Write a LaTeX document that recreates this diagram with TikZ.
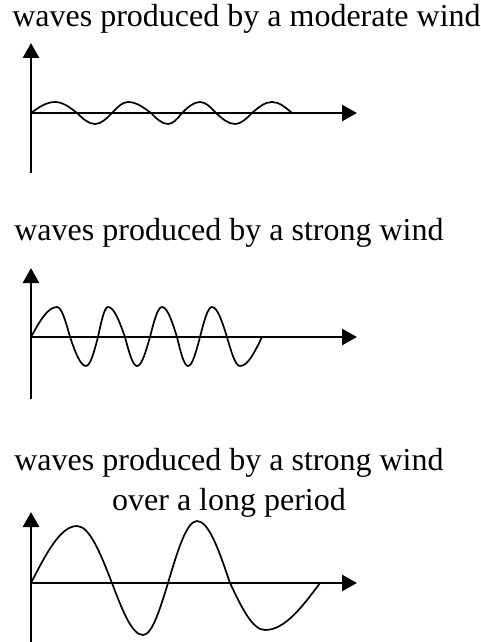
\documentclass[tikz,border=0pt]{standalone}
\usepackage{fontspec}
\setmainfont{Liberation Serif}
\usepackage{tikz}
\usetikzlibrary{arrows.meta}

\begin{document}
\begin{tikzpicture}[x=0.5pt,y=-0.5pt,
		axis/.style={line width=1.35pt,-{Triangle[length=7.5pt,width=8pt]}},
		wave/.style={line width=0.85pt},
		caption/.style={anchor=base,inner sep=0pt,align=center,font=\fontsize{16}{20}\selectfont}]
			\useasboundingbox (0,0) rectangle (481,642);
			% labels
			\node[caption] (t1) at (246.5,27) {waves produced by a moderate wind};
			\node[caption] (t2) at (229,240) {waves produced by a strong wind};
			\node[caption] (t3) at (229,510) {waves produced by a strong wind\\over a long period};
			% axes
			\coordinate (b1) at (31,173); \coordinate (y1) at (31,43);
			\coordinate (o1) at (31,113); \coordinate (x1) at (357,113);
			\coordinate (b2) at (31,399); \coordinate (y2) at (31,268);
			\coordinate (o2) at (31,337); \coordinate (x2) at (357,337);
			\coordinate (b3) at (31,642); \coordinate (y3) at (31,512);
			\coordinate (o3) at (31,583); \coordinate (x3) at (357,583);
			\draw[axis] (b1) -- (y1);
			\draw[axis] (o1) -- (x1);
			\draw[axis] (b2) -- (y2);
			\draw[axis] (o2) -- (x2);
			\draw[axis] (b3) -- (y3);
			\draw[axis] (o3) -- (x3);
			% moderate wind
			\draw[wave] (o1) sin (55,102) cos (77,113) sin (95,124) cos (112,113)
				sin (128,102) cos (151,113) sin (168,124) cos (182,113)
				sin (200,102) cos (216,113) sin (235,124) cos (252,113)
				sin (272,102) cos (292,113);
			% strong wind
			\draw[wave] (o2) sin (57,307) cos (70,337) sin (86,366) cos (98,337)
				sin (108,307) cos (125,337) sin (137,366) cos (150,337)
				sin (162,307) cos (177,337) sin (188,366) cos (200,337)
				sin (212,307) cos (227,337) sin (240,366) cos (262,337);
			% strong wind, long period
			\draw[wave] (o3) sin (77,526) cos (112,583) sin (143,635) cos (168,583)
				sin (197,521) cos (230,583) sin (265,630) cos (320,583);
		\end{tikzpicture}
\end{document}
